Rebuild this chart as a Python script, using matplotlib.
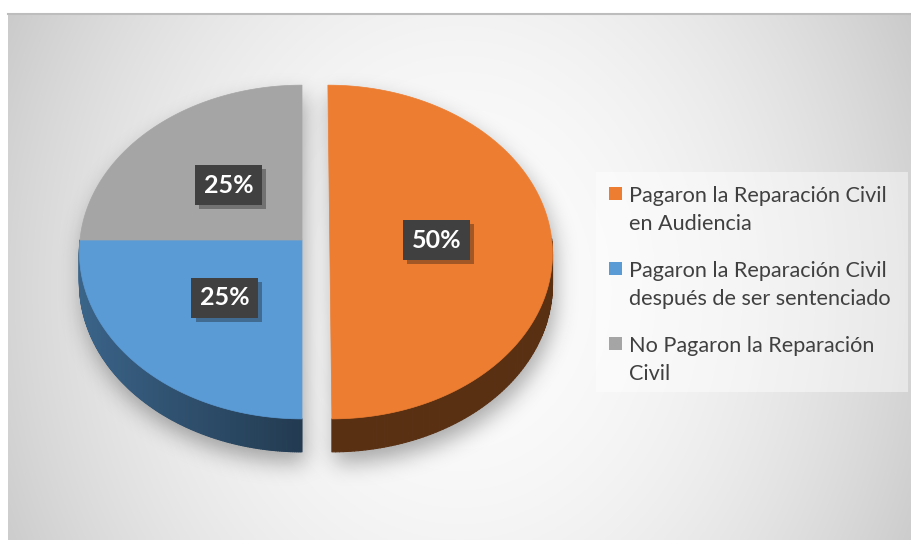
import numpy as np
import matplotlib
matplotlib.use('Agg')
import matplotlib.pyplot as plt
from matplotlib.patches import Polygon, Rectangle
from matplotlib.collections import PolyCollection
from matplotlib.path import Path
from matplotlib import patheffects as pe

labels = ['Pagaron la Reparación Civil\nen Audiencia',
          'Pagaron la Reparación Civil\ndespués de ser sentenciado',
          'No Pagaron la Reparación\nCivil']
values = [50, 25, 25]
pct_labels = ['50%', '25%', '25%']
colors = ['#ED7D31', '#5B9BD5', '#A5A5A5']
explode = [0.125, 0, 0]

plt.rcParams['font.family'] = ['Lato', 'DejaVu Sans']

W, H = 912, 540
# 3d pie geometry in pixels (perspective tilt K)
CX, CY = 302, 240
A, B, K = 222, 166, 0.072
DEPTH = 30.6


def proj(X, Y, z=0.0):
    w = 1 + K * Y
    return CX + A * X / w, CY - (B * Y + z) / w


def blur(img, sigma):
    r = int(3 * sigma)
    k = np.exp(-0.5 * (np.arange(-r, r + 1) / sigma) ** 2)
    k /= k.sum()
    img = np.apply_along_axis(lambda v: np.convolve(v, k, mode='same'), 0, img)
    img = np.apply_along_axis(lambda v: np.convolve(v, k, mode='same'), 1, img)
    return img


fig = plt.figure(figsize=(W / 100, H / 100), dpi=100)
ax = fig.add_axes([0, 0, 1, 1])
ax.set_xlim(0, W)
ax.set_ylim(H, 0)
ax.axis('off')

# %% radial gradient background of the chart area
yy, xx = np.mgrid[13:H, 8:W] + 0.5
g = 0.99 - 7.6e-7 * ((xx - 460) ** 2 + 0.7 * (yy - 290) ** 2)
ax.imshow(np.dstack([g, g, g]), extent=[8, W, H, 13], zorder=0, interpolation='bilinear')
ax.plot([8, W], [13.5, 13.5], color='#bdbdbd', lw=1.5, zorder=1)

# %% build slice geometry
cum = np.concatenate([[0], np.cumsum(values)]) / np.sum(values)
tops, sides, outlines, centers = [], [], [], []
for i in range(len(values)):
    t0 = np.radians(90 - 360 * cum[i])
    t1 = np.radians(90 - 360 * cum[i + 1])
    mid = (t0 + t1) / 2
    ox, oy = explode[i] * np.cos(mid), explode[i] * np.sin(mid)
    t = np.linspace(t0, t1, 200)
    tx, ty = proj(ox + np.cos(t), oy + np.sin(t))
    bx, by = proj(ox + np.cos(t), oy + np.sin(t), -DEPTH)
    c = proj(ox, oy)
    top = np.vstack([[c], np.column_stack([tx, ty])])
    tops.append(top)
    quads, shade = [], []
    vis = np.sin((t[:-1] + t[1:]) / 2) < 0
    for j in np.nonzero(vis)[0]:
        quads.append([(tx[j], ty[j]), (tx[j + 1], ty[j + 1]),
                      (bx[j + 1], by[j + 1]), (bx[j], by[j])])
        tm = (t[j] + t[j + 1]) / 2
        shade.append(0.38 + 0.27 * max(0, -np.cos(tm)))
    sides.append((quads, shade))
    outl = [top]
    if vis.any():
        idx = np.nonzero(vis)[0]
        seg = slice(idx[0], idx[-1] + 2)
        outl.append(np.vstack([np.column_stack([tx[seg], ty[seg]]),
                               np.column_stack([bx[seg], by[seg]])[::-1]]))
    outlines.append(outl)
    centers.append(proj(ox + 0.48 * np.cos(mid), oy + 0.48 * np.sin(mid)))

# %% soft shadow under the pie
py, px = np.mgrid[0:H, 0:W] + 0.5
pts = np.column_stack([px.ravel() - 3, py.ravel() - 11])
mask = np.zeros(len(pts), bool)
for outl in outlines:
    for poly in outl:
        mask |= Path(poly).contains_points(pts)
sh = blur(mask.reshape(H, W).astype(float), 11)
rgba = np.zeros((H, W, 4))
rgba[..., 3] = 0.33 * sh
ax.imshow(rgba, extent=[0, W, H, 0], zorder=2, interpolation='bilinear')

# %% sides then tops
for (quads, shade), col in zip(sides, colors):
    if not quads:
        continue
    rgb = np.array(matplotlib.colors.to_rgb(col))
    fc = [tuple(rgb * s) for s in shade]
    ax.add_collection(PolyCollection(quads, facecolors=fc, edgecolors=fc,
                                     linewidths=0.8, zorder=3))
for top, col in zip(tops, colors):
    ax.add_patch(Polygon(top, closed=True, facecolor=col, edgecolor=col,
                         lw=0.5, zorder=4))

# %% data labels
for (x, y), txt in zip(centers, pct_labels):
    t = ax.text(x, y, txt, ha='center', va='center', color='white',
                fontsize=18, fontweight='bold', zorder=6,
                bbox=dict(boxstyle='square,pad=0.34', facecolor='#404040',
                          edgecolor='none'))
    t.get_bbox_patch().set_path_effects(
        [pe.SimplePatchShadow(offset=(3, -3), alpha=0.35), pe.Normal()])

# %% legend
ax.add_patch(Rectangle((596, 172), 312, 220, facecolor='white', alpha=0.45,
                       edgecolor='none', zorder=5))
for i, (lab, col) in enumerate(zip(labels, colors)):
    yc = 193 + 75 * i
    ax.add_patch(Rectangle((609, yc - 6.5), 13, 13, facecolor=col,
                           edgecolor='none', zorder=6))
    for j, line in enumerate(lab.split('\n')):
        ax.text(629, yc + 9 + 28 * j, line, ha='left', va='baseline',
                fontsize=15.6, color='#404040', zorder=6)

fig.savefig('out.png', dpi=100)
